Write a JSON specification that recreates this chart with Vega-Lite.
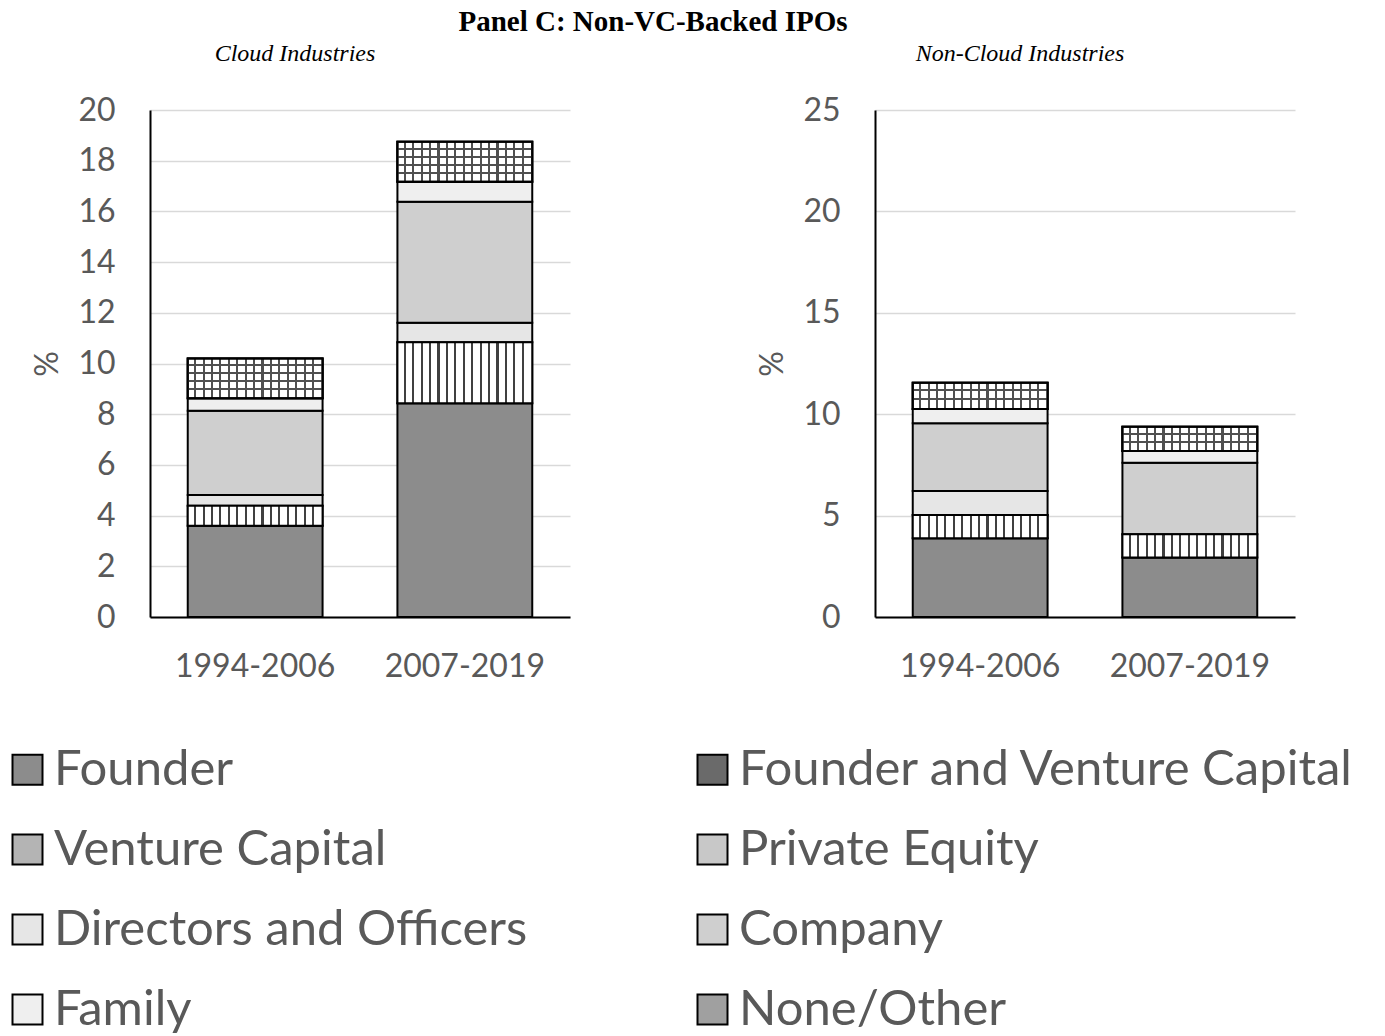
{
  "$schema": "https://vega.github.io/schema/vega-lite/v6.json",
  "background": "white",
  "padding": {"left": 3, "top": 8, "right": 0, "bottom": 0},
  "title": {"text": "Panel C: Non-VC-Backed IPOs", "font": "Liberation Serif", "fontSize": 29, "fontWeight": "bold", "color": "black", "anchor": "middle", "dx": -26, "offset": 5},
  "datasets": {
    "rows": [
      {"panel": "Cloud", "period": "1994-2006", "owner": "Founder", "value": 3.6},
      {"panel": "Cloud", "period": "1994-2006", "owner": "Private Equity", "value": 0.79},
      {"panel": "Cloud", "period": "1994-2006", "owner": "Directors and Officers", "value": 0.42},
      {"panel": "Cloud", "period": "1994-2006", "owner": "Company", "value": 3.33},
      {"panel": "Cloud", "period": "1994-2006", "owner": "Family", "value": 0.49},
      {"panel": "Cloud", "period": "1994-2006", "owner": "None/Other", "value": 1.57},
      {"panel": "Cloud", "period": "2007-2019", "owner": "Founder", "value": 8.43},
      {"panel": "Cloud", "period": "2007-2019", "owner": "Private Equity", "value": 2.41},
      {"panel": "Cloud", "period": "2007-2019", "owner": "Directors and Officers", "value": 0.77},
      {"panel": "Cloud", "period": "2007-2019", "owner": "Company", "value": 4.77},
      {"panel": "Cloud", "period": "2007-2019", "owner": "Family", "value": 0.79},
      {"panel": "Cloud", "period": "2007-2019", "owner": "None/Other", "value": 1.58},
      {"panel": "Non-Cloud", "period": "1994-2006", "owner": "Founder", "value": 3.88},
      {"panel": "Non-Cloud", "period": "1994-2006", "owner": "Private Equity", "value": 1.15},
      {"panel": "Non-Cloud", "period": "1994-2006", "owner": "Directors and Officers", "value": 1.18},
      {"panel": "Non-Cloud", "period": "1994-2006", "owner": "Company", "value": 3.34},
      {"panel": "Non-Cloud", "period": "1994-2006", "owner": "Family", "value": 0.71},
      {"panel": "Non-Cloud", "period": "1994-2006", "owner": "None/Other", "value": 1.29},
      {"panel": "Non-Cloud", "period": "2007-2019", "owner": "Founder", "value": 2.93},
      {"panel": "Non-Cloud", "period": "2007-2019", "owner": "Private Equity", "value": 1.15},
      {"panel": "Non-Cloud", "period": "2007-2019", "owner": "Company", "value": 3.53},
      {"panel": "Non-Cloud", "period": "2007-2019", "owner": "Family", "value": 0.57},
      {"panel": "Non-Cloud", "period": "2007-2019", "owner": "None/Other", "value": 1.2}
    ]
  },
  "data": {"name": "rows"},
  "spacing": 186,
  "hconcat": [
    {
      "width": 420,
      "height": 507,
      "title": {"text": "Cloud Industries", "font": "Liberation Serif", "fontStyle": "italic", "fontWeight": "normal", "fontSize": 24, "color": "black", "anchor": "middle", "dx": -65, "offset": 28},
      "transform": [
        {"filter": "datum.panel === 'Cloud'"},
        {"calculate": "indexof(['Founder','Founder and Venture Capital','Venture Capital','Private Equity','Directors and Officers','Company','Family','None/Other'], datum.owner)", "as": "rank"},
        {"stack": "value", "groupby": ["period"], "sort": [{"field": "rank", "order": "ascending"}], "as": ["v0", "v1"]}
      ],
      "encoding": {
        "x": {"field": "period", "type": "nominal", "title": null, "scale": {"paddingInner": 0.357, "paddingOuter": 0.18}},
        "y": {"field": "v0", "type": "quantitative", "title": "%", "scale": {"domain": [0, 20], "nice": false}, "axis": {"values": [0, 2, 4, 6, 8, 10, 12, 14, 16, 18, 20]}},
        "y2": {"field": "v1"}
      },
      "layer": [
        {
          "mark": {"type": "bar", "stroke": "black", "strokeWidth": 2},
          "encoding": {
            "fill": {
              "field": "owner", "type": "nominal",
              "scale": {
                "domain": ["Founder", "Venture Capital", "Directors and Officers", "Family", "Founder and Venture Capital", "Private Equity", "Company", "None/Other"],
                "range": ["#8c8c8c", "#b4b4b4", "#e6e6e6", "#efefef", "#6a6a6a", "#c8c8c8", "#cfcfcf", "#a0a0a0"]
              },
              "legend": {"orient": "none", "legendX": -147, "legendY": 635, "columns": 2, "title": null, "symbolType": "square", "symbolSize": 900, "symbolStrokeColor": "black", "symbolStrokeWidth": 2, "symbolOpacity": 1, "labelFont": "Lato", "labelFontSize": 49, "labelColor": "#595959", "labelOffset": 2, "labelLimit": 900, "rowPadding": 30, "columnPadding": 160}
            }
          }
        },
        {
          "transform": [{"filter": "datum.owner === 'Private Equity'"}],
          "mark": {"type": "bar", "stroke": "black", "strokeWidth": 2, "fill": {"gradient": "linear", "x1": 0, "y1": 0, "x2": 1, "y2": 0, "stops": [
            {"offset": 0, "color": "#ffffff"}, {"offset": 0.047, "color": "#ffffff"}, {"offset": 0.047, "color": "#404040"}, {"offset": 0.0625, "color": "#404040"},
            {"offset": 0.0625, "color": "#ffffff"}, {"offset": 0.1095, "color": "#ffffff"}, {"offset": 0.1095, "color": "#404040"}, {"offset": 0.125, "color": "#404040"},
            {"offset": 0.125, "color": "#ffffff"}, {"offset": 0.172, "color": "#ffffff"}, {"offset": 0.172, "color": "#404040"}, {"offset": 0.1875, "color": "#404040"},
            {"offset": 0.1875, "color": "#ffffff"}, {"offset": 0.2345, "color": "#ffffff"}, {"offset": 0.2345, "color": "#404040"}, {"offset": 0.25, "color": "#404040"},
            {"offset": 0.25, "color": "#ffffff"}, {"offset": 0.297, "color": "#ffffff"}, {"offset": 0.297, "color": "#404040"}, {"offset": 0.3125, "color": "#404040"},
            {"offset": 0.3125, "color": "#ffffff"}, {"offset": 0.3595, "color": "#ffffff"}, {"offset": 0.3595, "color": "#404040"}, {"offset": 0.375, "color": "#404040"},
            {"offset": 0.375, "color": "#ffffff"}, {"offset": 0.422, "color": "#ffffff"}, {"offset": 0.422, "color": "#404040"}, {"offset": 0.4375, "color": "#404040"},
            {"offset": 0.4375, "color": "#ffffff"}, {"offset": 0.4845, "color": "#ffffff"}, {"offset": 0.4845, "color": "#404040"}, {"offset": 0.5, "color": "#404040"},
            {"offset": 0.5, "color": "#ffffff"}, {"offset": 0.547, "color": "#ffffff"}, {"offset": 0.547, "color": "#404040"}, {"offset": 0.5625, "color": "#404040"},
            {"offset": 0.5625, "color": "#ffffff"}, {"offset": 0.6095, "color": "#ffffff"}, {"offset": 0.6095, "color": "#404040"}, {"offset": 0.625, "color": "#404040"},
            {"offset": 0.625, "color": "#ffffff"}, {"offset": 0.672, "color": "#ffffff"}, {"offset": 0.672, "color": "#404040"}, {"offset": 0.6875, "color": "#404040"},
            {"offset": 0.6875, "color": "#ffffff"}, {"offset": 0.7345, "color": "#ffffff"}, {"offset": 0.7345, "color": "#404040"}, {"offset": 0.75, "color": "#404040"},
            {"offset": 0.75, "color": "#ffffff"}, {"offset": 0.797, "color": "#ffffff"}, {"offset": 0.797, "color": "#404040"}, {"offset": 0.8125, "color": "#404040"},
            {"offset": 0.8125, "color": "#ffffff"}, {"offset": 0.8595, "color": "#ffffff"}, {"offset": 0.8595, "color": "#404040"}, {"offset": 0.875, "color": "#404040"},
            {"offset": 0.875, "color": "#ffffff"}, {"offset": 0.922, "color": "#ffffff"}, {"offset": 0.922, "color": "#404040"}, {"offset": 0.9375, "color": "#404040"},
            {"offset": 0.9375, "color": "#ffffff"}, {"offset": 1, "color": "#ffffff"}
          ]}}
        },
        {
          "transform": [{"filter": "datum.owner === 'None/Other'"}],
          "mark": {"type": "bar", "stroke": "black", "strokeWidth": 2, "fill": {"gradient": "linear", "x1": 0, "y1": 0, "x2": 1, "y2": 0, "stops": [
            {"offset": 0, "color": "#ffffff"}, {"offset": 0.047, "color": "#ffffff"}, {"offset": 0.047, "color": "#505050"}, {"offset": 0.0625, "color": "#505050"},
            {"offset": 0.0625, "color": "#ffffff"}, {"offset": 0.1095, "color": "#ffffff"}, {"offset": 0.1095, "color": "#505050"}, {"offset": 0.125, "color": "#505050"},
            {"offset": 0.125, "color": "#ffffff"}, {"offset": 0.172, "color": "#ffffff"}, {"offset": 0.172, "color": "#505050"}, {"offset": 0.1875, "color": "#505050"},
            {"offset": 0.1875, "color": "#ffffff"}, {"offset": 0.2345, "color": "#ffffff"}, {"offset": 0.2345, "color": "#505050"}, {"offset": 0.25, "color": "#505050"},
            {"offset": 0.25, "color": "#ffffff"}, {"offset": 0.297, "color": "#ffffff"}, {"offset": 0.297, "color": "#505050"}, {"offset": 0.3125, "color": "#505050"},
            {"offset": 0.3125, "color": "#ffffff"}, {"offset": 0.3595, "color": "#ffffff"}, {"offset": 0.3595, "color": "#505050"}, {"offset": 0.375, "color": "#505050"},
            {"offset": 0.375, "color": "#ffffff"}, {"offset": 0.422, "color": "#ffffff"}, {"offset": 0.422, "color": "#505050"}, {"offset": 0.4375, "color": "#505050"},
            {"offset": 0.4375, "color": "#ffffff"}, {"offset": 0.4845, "color": "#ffffff"}, {"offset": 0.4845, "color": "#505050"}, {"offset": 0.5, "color": "#505050"},
            {"offset": 0.5, "color": "#ffffff"}, {"offset": 0.547, "color": "#ffffff"}, {"offset": 0.547, "color": "#505050"}, {"offset": 0.5625, "color": "#505050"},
            {"offset": 0.5625, "color": "#ffffff"}, {"offset": 0.6095, "color": "#ffffff"}, {"offset": 0.6095, "color": "#505050"}, {"offset": 0.625, "color": "#505050"},
            {"offset": 0.625, "color": "#ffffff"}, {"offset": 0.672, "color": "#ffffff"}, {"offset": 0.672, "color": "#505050"}, {"offset": 0.6875, "color": "#505050"},
            {"offset": 0.6875, "color": "#ffffff"}, {"offset": 0.7345, "color": "#ffffff"}, {"offset": 0.7345, "color": "#505050"}, {"offset": 0.75, "color": "#505050"},
            {"offset": 0.75, "color": "#ffffff"}, {"offset": 0.797, "color": "#ffffff"}, {"offset": 0.797, "color": "#505050"}, {"offset": 0.8125, "color": "#505050"},
            {"offset": 0.8125, "color": "#ffffff"}, {"offset": 0.8595, "color": "#ffffff"}, {"offset": 0.8595, "color": "#505050"}, {"offset": 0.875, "color": "#505050"},
            {"offset": 0.875, "color": "#ffffff"}, {"offset": 0.922, "color": "#ffffff"}, {"offset": 0.922, "color": "#505050"}, {"offset": 0.9375, "color": "#505050"},
            {"offset": 0.9375, "color": "#ffffff"}, {"offset": 1, "color": "#ffffff"}
          ]}}
        },
        {
          "transform": [{"filter": "datum.owner === 'None/Other'"}],
          "mark": {"type": "bar", "stroke": "black", "strokeWidth": 2, "fill": {"gradient": "linear", "x1": 0, "y1": 0, "x2": 0, "y2": 1, "stops": [
            {"offset": 0, "color": "rgba(0,0,0,0)"}, {"offset": 0.15, "color": "rgba(0,0,0,0)"}, {"offset": 0.15, "color": "#505050"}, {"offset": 0.2, "color": "#505050"},
            {"offset": 0.2, "color": "rgba(0,0,0,0)"}, {"offset": 0.35, "color": "rgba(0,0,0,0)"}, {"offset": 0.35, "color": "#505050"}, {"offset": 0.4, "color": "#505050"},
            {"offset": 0.4, "color": "rgba(0,0,0,0)"}, {"offset": 0.55, "color": "rgba(0,0,0,0)"}, {"offset": 0.55, "color": "#505050"}, {"offset": 0.6, "color": "#505050"},
            {"offset": 0.6, "color": "rgba(0,0,0,0)"}, {"offset": 0.75, "color": "rgba(0,0,0,0)"}, {"offset": 0.75, "color": "#505050"}, {"offset": 0.8, "color": "#505050"},
            {"offset": 0.8, "color": "rgba(0,0,0,0)"}, {"offset": 1, "color": "rgba(0,0,0,0)"}
          ]}}
        }
      ]
    },
    {
      "width": 420,
      "height": 507,
      "title": {"text": "Non-Cloud Industries", "font": "Liberation Serif", "fontStyle": "italic", "fontWeight": "normal", "fontSize": 24, "color": "black", "anchor": "middle", "dx": -65, "offset": 28},
      "transform": [
        {"filter": "datum.panel === 'Non-Cloud'"},
        {"calculate": "indexof(['Founder','Founder and Venture Capital','Venture Capital','Private Equity','Directors and Officers','Company','Family','None/Other'], datum.owner)", "as": "rank"},
        {"stack": "value", "groupby": ["period"], "sort": [{"field": "rank", "order": "ascending"}], "as": ["v0", "v1"]}
      ],
      "encoding": {
        "x": {"field": "period", "type": "nominal", "title": null, "scale": {"paddingInner": 0.357, "paddingOuter": 0.18}},
        "y": {"field": "v0", "type": "quantitative", "title": "%", "scale": {"domain": [0, 25], "nice": false}, "axis": {"values": [0, 5, 10, 15, 20, 25]}},
        "y2": {"field": "v1"}
      },
      "layer": [
        {
          "mark": {"type": "bar", "stroke": "black", "strokeWidth": 2},
          "encoding": {
            "fill": {
              "field": "owner", "type": "nominal",
              "scale": {
                "domain": ["Founder", "Venture Capital", "Directors and Officers", "Family", "Founder and Venture Capital", "Private Equity", "Company", "None/Other"],
                "range": ["#8c8c8c", "#b4b4b4", "#e6e6e6", "#efefef", "#6a6a6a", "#c8c8c8", "#cfcfcf", "#a0a0a0"]
              },
              "legend": null
            }
          }
        },
        {
          "transform": [{"filter": "datum.owner === 'Private Equity'"}],
          "mark": {"type": "bar", "stroke": "black", "strokeWidth": 2, "fill": {"gradient": "linear", "x1": 0, "y1": 0, "x2": 1, "y2": 0, "stops": [
            {"offset": 0, "color": "#ffffff"}, {"offset": 0.047, "color": "#ffffff"}, {"offset": 0.047, "color": "#404040"}, {"offset": 0.0625, "color": "#404040"},
            {"offset": 0.0625, "color": "#ffffff"}, {"offset": 0.1095, "color": "#ffffff"}, {"offset": 0.1095, "color": "#404040"}, {"offset": 0.125, "color": "#404040"},
            {"offset": 0.125, "color": "#ffffff"}, {"offset": 0.172, "color": "#ffffff"}, {"offset": 0.172, "color": "#404040"}, {"offset": 0.1875, "color": "#404040"},
            {"offset": 0.1875, "color": "#ffffff"}, {"offset": 0.2345, "color": "#ffffff"}, {"offset": 0.2345, "color": "#404040"}, {"offset": 0.25, "color": "#404040"},
            {"offset": 0.25, "color": "#ffffff"}, {"offset": 0.297, "color": "#ffffff"}, {"offset": 0.297, "color": "#404040"}, {"offset": 0.3125, "color": "#404040"},
            {"offset": 0.3125, "color": "#ffffff"}, {"offset": 0.3595, "color": "#ffffff"}, {"offset": 0.3595, "color": "#404040"}, {"offset": 0.375, "color": "#404040"},
            {"offset": 0.375, "color": "#ffffff"}, {"offset": 0.422, "color": "#ffffff"}, {"offset": 0.422, "color": "#404040"}, {"offset": 0.4375, "color": "#404040"},
            {"offset": 0.4375, "color": "#ffffff"}, {"offset": 0.4845, "color": "#ffffff"}, {"offset": 0.4845, "color": "#404040"}, {"offset": 0.5, "color": "#404040"},
            {"offset": 0.5, "color": "#ffffff"}, {"offset": 0.547, "color": "#ffffff"}, {"offset": 0.547, "color": "#404040"}, {"offset": 0.5625, "color": "#404040"},
            {"offset": 0.5625, "color": "#ffffff"}, {"offset": 0.6095, "color": "#ffffff"}, {"offset": 0.6095, "color": "#404040"}, {"offset": 0.625, "color": "#404040"},
            {"offset": 0.625, "color": "#ffffff"}, {"offset": 0.672, "color": "#ffffff"}, {"offset": 0.672, "color": "#404040"}, {"offset": 0.6875, "color": "#404040"},
            {"offset": 0.6875, "color": "#ffffff"}, {"offset": 0.7345, "color": "#ffffff"}, {"offset": 0.7345, "color": "#404040"}, {"offset": 0.75, "color": "#404040"},
            {"offset": 0.75, "color": "#ffffff"}, {"offset": 0.797, "color": "#ffffff"}, {"offset": 0.797, "color": "#404040"}, {"offset": 0.8125, "color": "#404040"},
            {"offset": 0.8125, "color": "#ffffff"}, {"offset": 0.8595, "color": "#ffffff"}, {"offset": 0.8595, "color": "#404040"}, {"offset": 0.875, "color": "#404040"},
            {"offset": 0.875, "color": "#ffffff"}, {"offset": 0.922, "color": "#ffffff"}, {"offset": 0.922, "color": "#404040"}, {"offset": 0.9375, "color": "#404040"},
            {"offset": 0.9375, "color": "#ffffff"}, {"offset": 1, "color": "#ffffff"}
          ]}}
        },
        {
          "transform": [{"filter": "datum.owner === 'None/Other'"}],
          "mark": {"type": "bar", "stroke": "black", "strokeWidth": 2, "fill": {"gradient": "linear", "x1": 0, "y1": 0, "x2": 1, "y2": 0, "stops": [
            {"offset": 0, "color": "#ffffff"}, {"offset": 0.047, "color": "#ffffff"}, {"offset": 0.047, "color": "#505050"}, {"offset": 0.0625, "color": "#505050"},
            {"offset": 0.0625, "color": "#ffffff"}, {"offset": 0.1095, "color": "#ffffff"}, {"offset": 0.1095, "color": "#505050"}, {"offset": 0.125, "color": "#505050"},
            {"offset": 0.125, "color": "#ffffff"}, {"offset": 0.172, "color": "#ffffff"}, {"offset": 0.172, "color": "#505050"}, {"offset": 0.1875, "color": "#505050"},
            {"offset": 0.1875, "color": "#ffffff"}, {"offset": 0.2345, "color": "#ffffff"}, {"offset": 0.2345, "color": "#505050"}, {"offset": 0.25, "color": "#505050"},
            {"offset": 0.25, "color": "#ffffff"}, {"offset": 0.297, "color": "#ffffff"}, {"offset": 0.297, "color": "#505050"}, {"offset": 0.3125, "color": "#505050"},
            {"offset": 0.3125, "color": "#ffffff"}, {"offset": 0.3595, "color": "#ffffff"}, {"offset": 0.3595, "color": "#505050"}, {"offset": 0.375, "color": "#505050"},
            {"offset": 0.375, "color": "#ffffff"}, {"offset": 0.422, "color": "#ffffff"}, {"offset": 0.422, "color": "#505050"}, {"offset": 0.4375, "color": "#505050"},
            {"offset": 0.4375, "color": "#ffffff"}, {"offset": 0.4845, "color": "#ffffff"}, {"offset": 0.4845, "color": "#505050"}, {"offset": 0.5, "color": "#505050"},
            {"offset": 0.5, "color": "#ffffff"}, {"offset": 0.547, "color": "#ffffff"}, {"offset": 0.547, "color": "#505050"}, {"offset": 0.5625, "color": "#505050"},
            {"offset": 0.5625, "color": "#ffffff"}, {"offset": 0.6095, "color": "#ffffff"}, {"offset": 0.6095, "color": "#505050"}, {"offset": 0.625, "color": "#505050"},
            {"offset": 0.625, "color": "#ffffff"}, {"offset": 0.672, "color": "#ffffff"}, {"offset": 0.672, "color": "#505050"}, {"offset": 0.6875, "color": "#505050"},
            {"offset": 0.6875, "color": "#ffffff"}, {"offset": 0.7345, "color": "#ffffff"}, {"offset": 0.7345, "color": "#505050"}, {"offset": 0.75, "color": "#505050"},
            {"offset": 0.75, "color": "#ffffff"}, {"offset": 0.797, "color": "#ffffff"}, {"offset": 0.797, "color": "#505050"}, {"offset": 0.8125, "color": "#505050"},
            {"offset": 0.8125, "color": "#ffffff"}, {"offset": 0.8595, "color": "#ffffff"}, {"offset": 0.8595, "color": "#505050"}, {"offset": 0.875, "color": "#505050"},
            {"offset": 0.875, "color": "#ffffff"}, {"offset": 0.922, "color": "#ffffff"}, {"offset": 0.922, "color": "#505050"}, {"offset": 0.9375, "color": "#505050"},
            {"offset": 0.9375, "color": "#ffffff"}, {"offset": 1, "color": "#ffffff"}
          ]}}
        },
        {
          "transform": [{"filter": "datum.owner === 'None/Other'"}],
          "mark": {"type": "bar", "stroke": "black", "strokeWidth": 2, "fill": {"gradient": "linear", "x1": 0, "y1": 0, "x2": 0, "y2": 1, "stops": [
            {"offset": 0, "color": "rgba(0,0,0,0)"}, {"offset": 0.25, "color": "rgba(0,0,0,0)"}, {"offset": 0.25, "color": "#505050"}, {"offset": 0.333, "color": "#505050"},
            {"offset": 0.333, "color": "rgba(0,0,0,0)"}, {"offset": 0.583, "color": "rgba(0,0,0,0)"}, {"offset": 0.583, "color": "#505050"}, {"offset": 0.667, "color": "#505050"},
            {"offset": 0.667, "color": "rgba(0,0,0,0)"}, {"offset": 1, "color": "rgba(0,0,0,0)"}
          ]}}
        }
      ]
    }
  ],
  "config": {
    "view": {"stroke": null},
    "axis": {"labelFont": "Lato", "labelFontSize": 32, "labelColor": "#595959", "titleFont": "Lato", "titleFontSize": 32, "titleColor": "#595959", "titleFontWeight": "normal", "ticks": false, "domainColor": "black", "domainWidth": 2, "gridColor": "#d9d9d9", "gridWidth": 1.5},
    "axisX": {"grid": false, "labelPadding": 34, "labelAngle": 0},
    "axisY": {"labelPadding": 35, "titlePadding": 13}
  }
}
